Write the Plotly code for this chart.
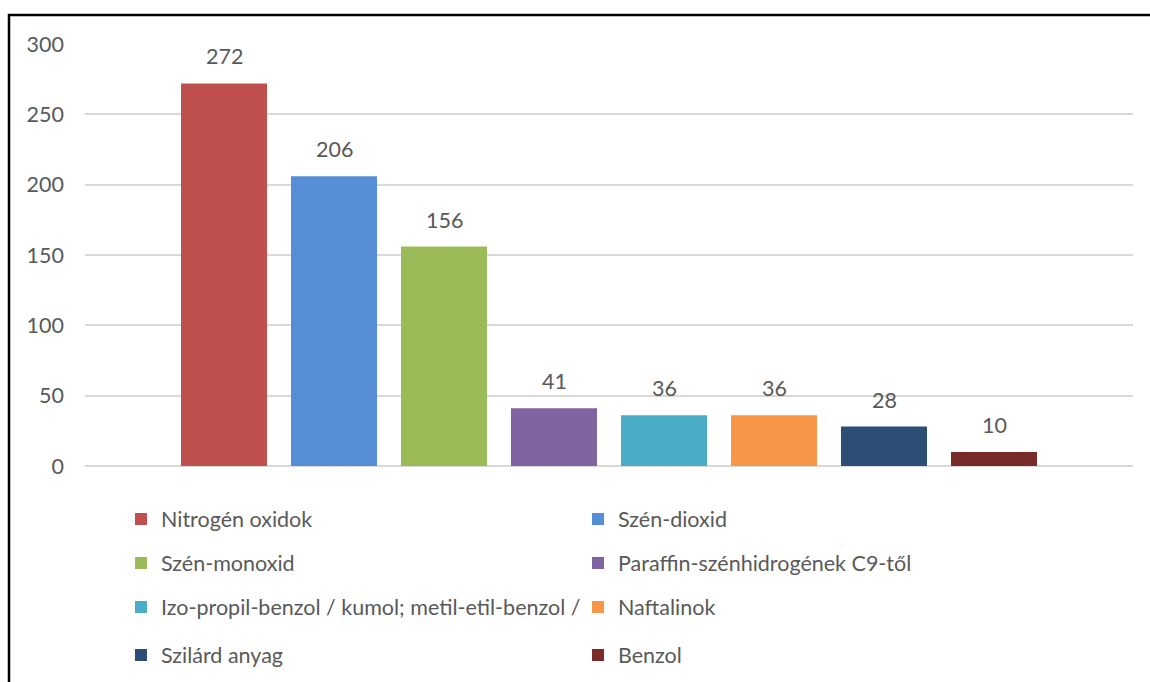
import plotly.graph_objects as go

categories = [
    "Nitrogén oxidok",
    "Szén-dioxid",
    "Szén-monoxid",
    "Paraffin-szénhidrogének C9-től",
    "Izo-propil-benzol / kumol; metil-etil-benzol /",
    "Naftalinok",
    "Szilárd anyag",
    "Benzol",
]
values = [272, 206, 156, 41, 36, 36, 28, 10]
colors = ["#C0504D", "#558ED5", "#9BBB59", "#8064A2",
          "#4BACC6", "#F79646", "#2C4D75", "#772C2A"]
y_ticks = [0, 50, 100, 150, 200, 250, 300]

FONT = "Lato"
GREY = "#595959"
FS = 21.5

W, H = 1150, 682
L, R, T, B = 85, 17, 44, 216
pw, ph = W - L - R, H - T - B

legend_names = ["legend", "legend2", "legend3", "legend4"]

fig = go.Figure()
for i, (c, v, col) in enumerate(zip(categories, values, colors)):
    fig.add_trace(go.Bar(
        x=[c], y=[v], name=c, marker=dict(color=col, line=dict(width=0)),
        width=0.782, legend=legend_names[i // 2], showlegend=True,
    ))
    fig.add_annotation(x=c, y=v, text=str(v), showarrow=False,
                       yanchor="bottom", yshift=12,
                       font=dict(family=FONT, size=FS, color=GREY))

n = len(categories)
slot = 110.0
span = pw / slot
mid = (n - 1) / 2

row_px = [519, 563, 607, 655]
leg_common = dict(orientation="h", xanchor="left", yanchor="middle",
                  entrywidth=412, entrywidthmode="pixels",
                  font=dict(family=FONT, size=FS, color=GREY),
                  bgcolor="rgba(0,0,0,0)", borderwidth=0)
layout_leg = {}
for k, name in enumerate(legend_names):
    layout_leg[name] = dict(x=(121 - L) / pw, y=(T + ph - row_px[k]) / ph, **leg_common)

fig.update_layout(
    width=W, height=H,
    margin=dict(l=L, r=R, t=T, b=B, pad=0, autoexpand=False),
    paper_bgcolor="white", plot_bgcolor="white",
    barmode="overlay",
    font=dict(family=FONT, size=FS, color=GREY),
    xaxis=dict(type="category", range=[mid - span / 2, mid + span / 2],
               showticklabels=False, showgrid=False, zeroline=False,
               showline=False, ticks=""),
    yaxis=dict(range=[0, 300], tickvals=y_ticks, showgrid=True,
               gridcolor="#D9D9D9", gridwidth=2, zeroline=True,
               zerolinecolor="#D9D9D9", zerolinewidth=2, showline=False,
               ticks="", ticklabelstandoff=20,
               tickfont=dict(family=FONT, size=FS, color=GREY)),
    **layout_leg,
)

fig.add_shape(type="rect", xref="paper", yref="paper",
              x0=(9 - L) / pw, x1=(W + 20 - L) / pw,
              y0=(T + ph - (H + 20)) / ph, y1=(T + ph - 15) / ph,
              line=dict(color="black", width=2.5), fillcolor="rgba(0,0,0,0)",
              layer="above")

fig.write_html("out.html")
